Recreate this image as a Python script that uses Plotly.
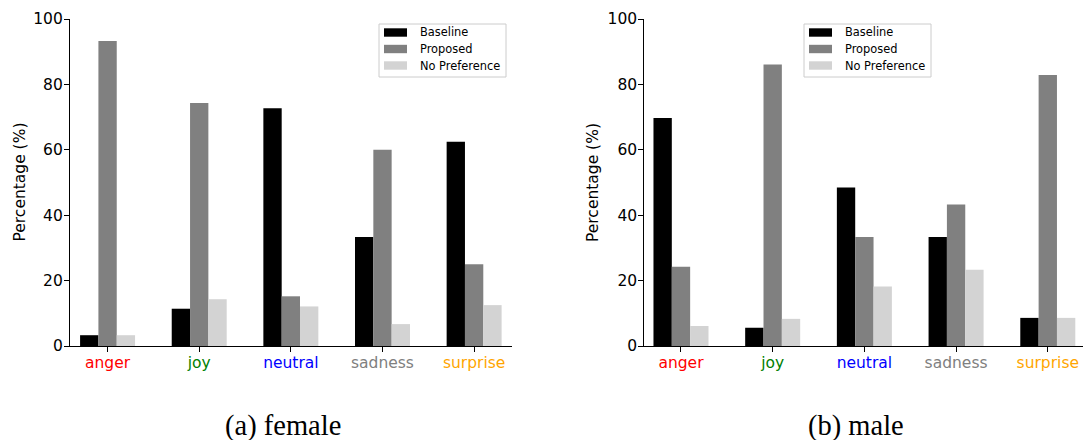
import plotly.graph_objects as go

# Preference-test results (%) per emotion, for female and male voices
emotions = ["anger", "joy", "neutral", "sadness", "surprise"]
emotion_colors = ["red", "green", "blue", "gray", "orange"]

female_baseline = [3.3, 11.4, 72.7, 33.3, 62.5]
female_proposed = [93.3, 74.3, 15.2, 60.0, 25.0]
female_nopref = [3.3, 14.3, 12.1, 6.7, 12.5]

male_baseline = [69.7, 5.6, 48.5, 33.3, 8.6]
male_proposed = [24.2, 86.1, 33.3, 43.3, 82.9]
male_nopref = [6.1, 8.3, 18.2, 23.3, 8.6]

series_names = ["Baseline", "Proposed", "No Preference"]
series_colors = ["#000000", "#808080", "#d3d3d3"]

W, H = 1083, 440


def px(x):
    return x / W


def py(y):
    return 1 - y / H


SANS = "DejaVu Sans"
fig = go.Figure()

panels = [
    ("x", "y", [female_baseline, female_proposed, female_nopref]),
    ("x2", "y2", [male_baseline, male_proposed, male_nopref]),
]
positions = list(range(len(emotions)))
for xa, ya, groups in panels:
    for name, color, vals in zip(series_names, series_colors, groups):
        fig.add_trace(go.Bar(
            x=positions, y=vals, name=name, xaxis=xa, yaxis=ya,
            marker=dict(color=color, line=dict(width=0)),
            showlegend=False,
        ))

ticktext = [f'<span style="color:{c}">{e}</span>' for e, c in zip(emotions, emotion_colors)]

axis_common = dict(
    showline=True, linecolor="black", linewidth=1.1,
    ticks="outside", ticklen=5, tickwidth=1.1, tickcolor="black",
    showgrid=False, zeroline=False, automargin=False,
    tickfont=dict(family=SANS, size=15.5, color="black"),
)
xaxis_common = dict(axis_common, ticklabelstandoff=-3)
yaxis_common = dict(axis_common, ticklabelstandoff=-2)

fig.update_layout(
    template="none",
    width=W, height=H,
    margin=dict(l=0, r=0, t=0, b=0, pad=0),
    paper_bgcolor="white", plot_bgcolor="white",
    barmode="group", bargap=0.4, bargroupgap=0,
    xaxis=dict(domain=[px(70), px(511.7)], range=[-0.41, 4.41],
               tickvals=positions, ticktext=ticktext, anchor="y", **xaxis_common),
    yaxis=dict(domain=[py(346), py(19)], range=[0, 100],
               tickvals=[0, 20, 40, 60, 80, 100], anchor="x", **yaxis_common),
    xaxis2=dict(domain=[px(644.3), 1.0], range=[-0.40, 4.384],
                tickvals=positions, ticktext=ticktext, anchor="y2", **xaxis_common),
    yaxis2=dict(domain=[py(346), py(19)], range=[0, 100],
                tickvals=[0, 20, 40, 60, 80, 100], anchor="x2", **yaxis_common),
)

annotations = []
shapes = []

# y-axis titles
for xc in (19, 592.5):
    annotations.append(dict(
        x=px(xc), y=py(182.5), xref="paper", yref="paper",
        text="Percentage (%)", textangle=-90, showarrow=False,
        xanchor="center", yanchor="middle",
        font=dict(family=SANS, size=15.5, color="black"),
    ))

# legends drawn as a framed box with swatches
for left in (379, 804):
    shapes.append(dict(
        type="rect", xref="paper", yref="paper",
        x0=px(left), x1=px(left + 127), y0=py(77), y1=py(24),
        line=dict(color="#cccccc", width=1), fillcolor="rgba(255,255,255,0.8)",
    ))
    for i, (name, color) in enumerate(zip(series_names, series_colors)):
        yc = 32.5 + i * 16.5
        shapes.append(dict(
            type="rect", xref="paper", yref="paper",
            x0=px(left + 5), x1=px(left + 28), y0=py(yc + 4.2), y1=py(yc - 4.2),
            line=dict(width=0), fillcolor=color,
        ))
        annotations.append(dict(
            x=px(left + 39), y=py(yc), xref="paper", yref="paper",
            text=name, showarrow=False, xanchor="left", yanchor="middle",
            font=dict(family=SANS, size=11.4, color="black"),
        ))

# panel captions
for xc, cap in ((282.6, "(a) female"), (855.7, "(b) male")):
    annotations.append(dict(
        x=px(xc), y=py(426), xref="paper", yref="paper",
        text=cap, showarrow=False, xanchor="center", yanchor="middle",
        font=dict(family="Liberation Serif", size=28.5, color="black"),
    ))

fig.update_layout(annotations=annotations, shapes=shapes)
fig.write_html("out.html")
